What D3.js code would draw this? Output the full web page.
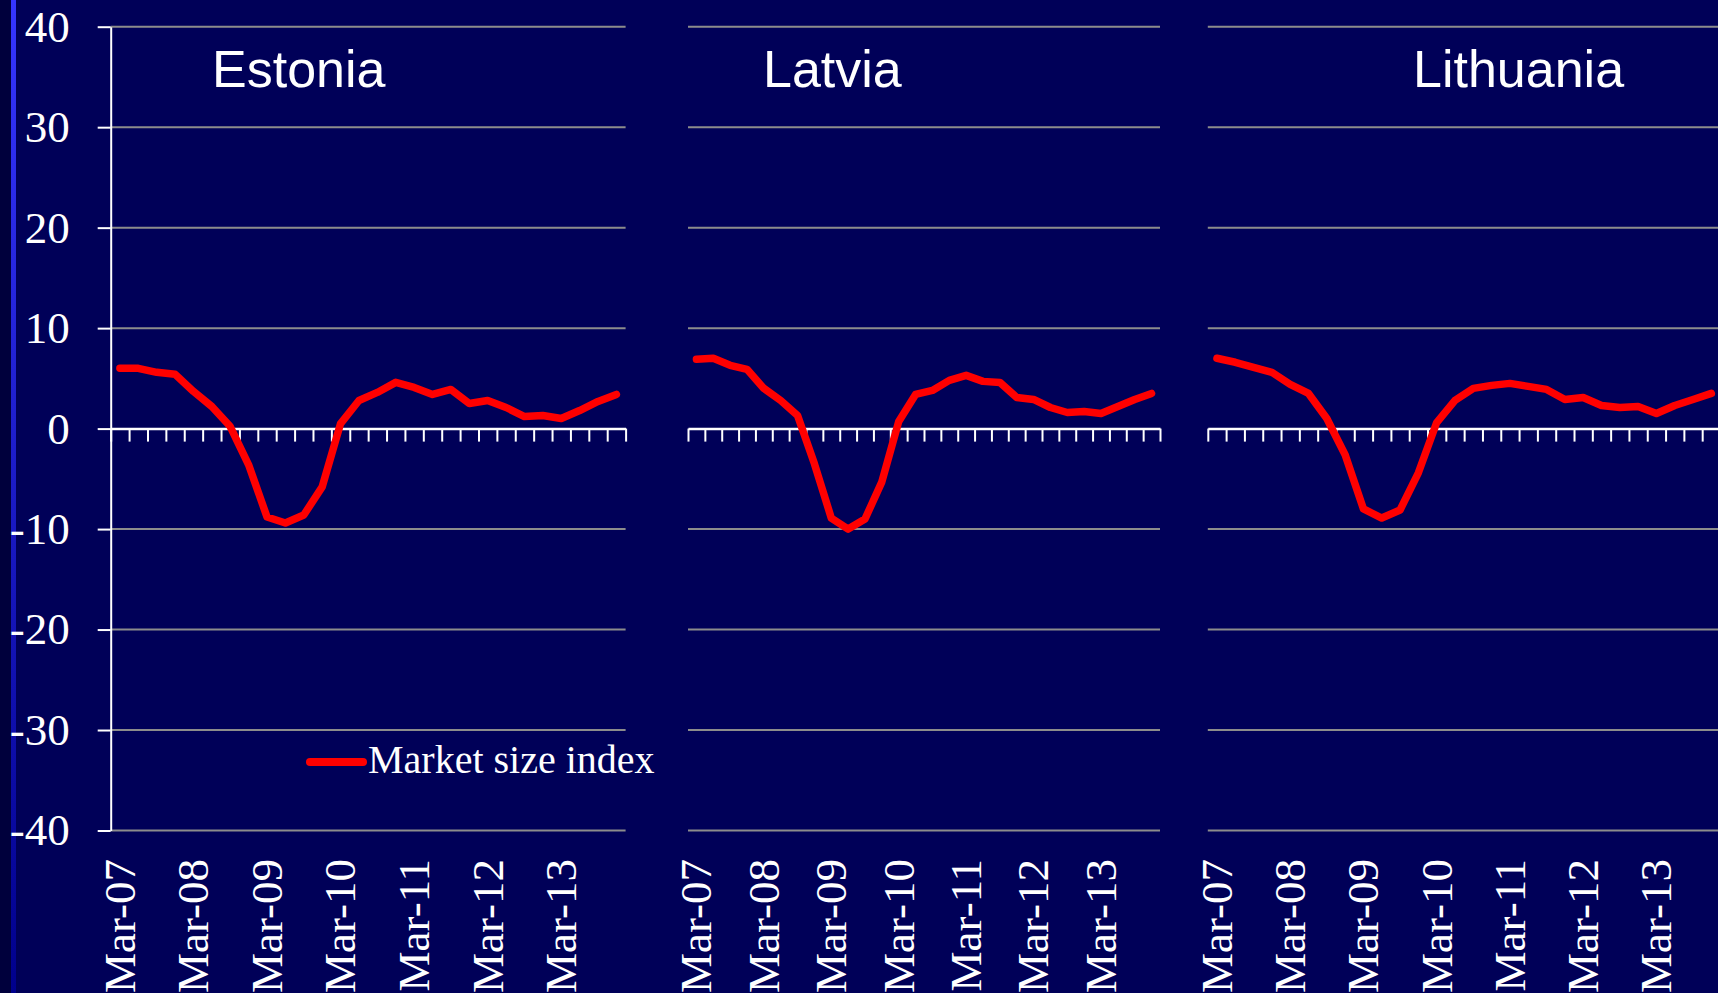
<!DOCTYPE html>
<html>
<head>
<meta charset="utf-8">
<script src="https://cdn.jsdelivr.net/npm/d3@7"></script>
<style>
  html, body { margin: 0; padding: 0; background: #000058; overflow: hidden; }
</style>
</head>
<body>
<div id="chart"></div>
<script>
document.addEventListener("DOMContentLoaded", () => {
    const width = 1718, height = 993;

    // quarterly categories
    const quarters = [
        "Mar-07", "Jun-07", "Sep-07", "Dec-07",
        "Mar-08", "Jun-08", "Sep-08", "Dec-08",
        "Mar-09", "Jun-09", "Sep-09", "Dec-09",
        "Mar-10", "Jun-10", "Sep-10", "Dec-10",
        "Mar-11", "Jun-11", "Sep-11", "Dec-11",
        "Mar-12", "Jun-12", "Sep-12", "Dec-12",
        "Mar-13", "Jun-13", "Sep-13", "Dec-13"
    ];
    const countries = ["Estonia", "Latvia", "Lithuania"];
    const estonia = [6.0, 6.0, 5.6, 5.4, 3.7, 2.2, 0.2, -3.6, -8.8, -9.4, -8.6, -5.8, 0.5, 2.8,
        3.6, 4.6, 4.1, 3.4, 3.9, 2.5, 2.8, 2.1, 1.2, 1.3, 1.0, 1.8, 2.7, 3.4];
    const latvia = [6.9, 7.0, 6.3, 5.9, 4.0, 2.8, 1.3, -3.5, -8.9, -10.0, -9.0, -5.3, 0.7, 3.4,
        3.8, 4.8, 5.3, 4.7, 4.6, 3.1, 2.9, 2.1, 1.6, 1.7, 1.5, 2.2, 2.9, 3.5];
    const lithuania = [7.0, 6.6, 6.1, 5.6, 4.4, 3.5, 1.0, -2.6, -8.0, -8.9, -8.1, -4.4, 0.6, 2.8,
        4.0, 4.3, 4.5, 4.2, 3.9, 2.9, 3.1, 2.3, 2.1, 2.2, 1.5, 2.3, 2.9, 3.5];
    const series = [estonia, latvia, lithuania];
    const yTicks = [-40, -30, -20, -10, 0, 10, 20, 30, 40];
    const legendLabel = "Market size index";

    // layout
    const panelExtents = [[110.7, 625.6], [688, 1160], [1207.8, 1720.5]];
    const titleX = [212, 763, 1413];
    const titleY = 87;
    const yTop = 26.7, yBottom = 830.5;
    const bg = "#000058", gridColor = "#8c8c8c", lineColor = "#ff0000";
    const serif = "'Liberation Serif', 'Times New Roman', serif";
    const sans = "'Liberation Sans', Arial, sans-serif";

    const svg = d3.select("#chart")
        .append("svg")
        .attr("width", width)
        .attr("height", height);

    const defs = svg.append("defs");
    const grad = defs.append("linearGradient")
        .attr("id", "stripe")
        .attr("x1", 0).attr("y1", 0).attr("x2", 0).attr("y2", 1);
    grad.append("stop").attr("offset", "0%").attr("stop-color", "#3535ff");
    grad.append("stop").attr("offset", "100%").attr("stop-color", "#00008c");

    svg.append("rect").attr("width", width).attr("height", height).attr("fill", bg);
    svg.append("rect").attr("x", 0).attr("y", 0).attr("width", 11).attr("height", height).attr("fill", "#00003c");
    svg.append("rect").attr("x", 11).attr("y", 0).attr("width", 5).attr("height", height).attr("fill", "url(#stripe)");

    const y = d3.scaleLinear().domain([-40, 40]).range([yBottom, yTop]);

    countries.forEach((name, i) => {
        const extent = panelExtents[i];
        const x = d3.scaleBand().domain(quarters).range(extent);
        const xEdges = d3.scaleLinear().domain([0, quarters.length]).range(extent);
        const g = svg.append("g");

        // gridlines
        g.selectAll(".grid")
            .data(yTicks.filter(t => t !== 0))
            .join("line")
            .attr("x1", extent[0])
            .attr("x2", extent[1])
            .attr("y1", d => y(d))
            .attr("y2", d => y(d))
            .attr("stroke", gridColor)
            .attr("stroke-width", 2);

        // value axis only on the first panel
        if (i === 0) {
            const yAxis = g.append("g")
                .attr("transform", `translate(${extent[0]},0)`)
                .call(d3.axisLeft(y)
                    .tickValues(yTicks)
                    .tickSize(13)
                    .tickSizeOuter(0)
                    .tickPadding(28)
                    .tickFormat(d => String(d)));
            yAxis.select(".domain").attr("stroke", "#ffffff").attr("stroke-width", 2);
            yAxis.selectAll(".tick line").attr("stroke", "#ffffff").attr("stroke-width", 2);
            yAxis.selectAll(".tick text")
                .attr("fill", "#ffffff")
                .style("font-family", serif)
                .style("font-size", "45px");
        }

        // category axis at zero
        const xAxis = g.append("g")
            .attr("transform", `translate(0,${y(0)})`)
            .call(d3.axisBottom(xEdges)
                .tickValues(d3.range(quarters.length + 1))
                .tickSize(13)
                .tickSizeOuter(0)
                .tickFormat(""));
        xAxis.select(".domain").attr("stroke", "#ffffff").attr("stroke-width", 2.5);
        xAxis.selectAll(".tick line").attr("stroke", "#ffffff").attr("stroke-width", 2);

        // rotated category labels
        g.selectAll(".xlabel")
            .data(quarters.filter(q => q.startsWith("Mar")))
            .join("text")
            .attr("transform", d => `translate(${x(d) + x.bandwidth() / 2},859) rotate(-90)`)
            .attr("dy", "0.33em")
            .attr("text-anchor", "end")
            .attr("fill", "#ffffff")
            .style("font-family", serif)
            .style("font-size", "45px")
            .text(d => d);

        // series line
        const line = d3.line()
            .x((d, j) => x(quarters[j]) + x.bandwidth() / 2)
            .y(d => y(d));
        g.append("path")
            .datum(series[i])
            .attr("d", line)
            .attr("fill", "none")
            .attr("stroke", lineColor)
            .attr("stroke-width", 7.5)
            .attr("stroke-linejoin", "round")
            .attr("stroke-linecap", "round");

        // panel title
        g.append("text")
            .attr("x", titleX[i])
            .attr("y", titleY)
            .attr("fill", "#ffffff")
            .style("font-family", sans)
            .style("font-size", "52px")
            .text(name);
    });

    // legend
    const legend = svg.append("g");
    legend.append("line")
        .attr("x1", 310).attr("x2", 363)
        .attr("y1", 762).attr("y2", 762)
        .attr("stroke", lineColor)
        .attr("stroke-width", 8)
        .attr("stroke-linecap", "round");
    legend.append("text")
        .attr("x", 368)
        .attr("y", 773)
        .attr("fill", "#ffffff")
        .style("font-family", serif)
        .style("font-size", "40px")
        .text(legendLabel);
});
</script>
</body>
</html>
